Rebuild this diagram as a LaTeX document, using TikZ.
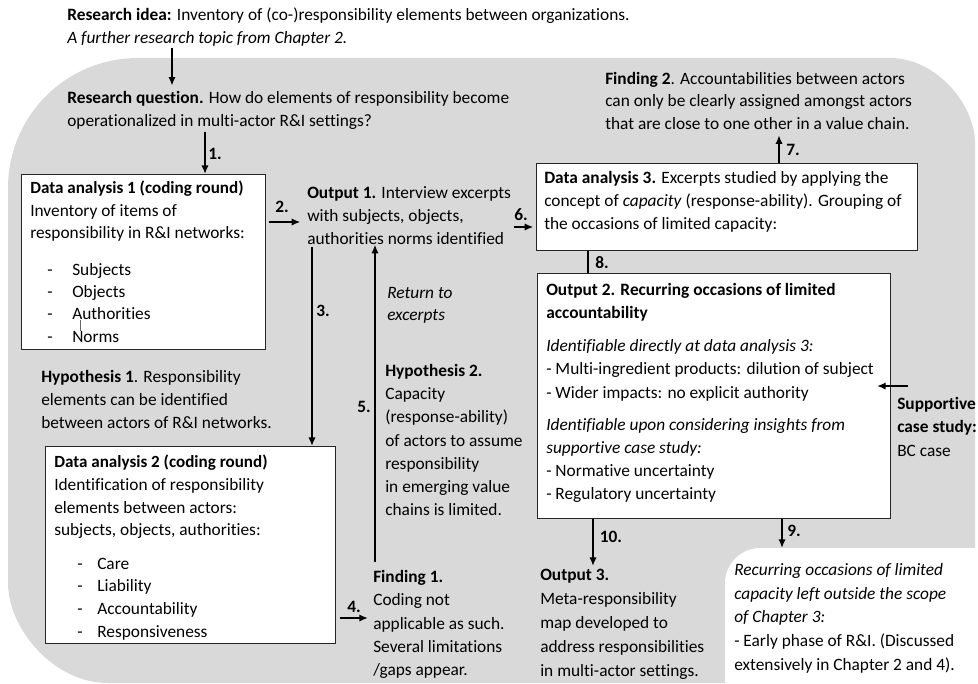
\documentclass[tikz,border=0pt]{standalone}
\usepackage{fontspec}
\setmainfont{Carlito}[Ligatures=NoCommon]
\usetikzlibrary{arrows.meta,calc}
\definecolor{panel}{RGB}{217,217,217}
\newcommand\dashitem[3]{\hspace*{#1}\makebox[#2][l]{-}#3}
\newcommand\boxtitle[1]{{\fontsize{12.8}{17}\selectfont\bfseries #1}}
\begin{document}
\begin{tikzpicture}[x=0.75pt,y=-0.75pt,
  tx/.style={anchor=north west,inner sep=0pt,align=left,yshift=-2.25pt,font=\fontsize{13}{17.25}\selectfont},
  box/.style={draw=black!85,line width=0.75pt,fill=white,anchor=north west,inner sep=0pt},
  arr/.style={line width=1.5pt,-{Latex[length=6.5pt,width=5.5pt]}},
  link/.style={line width=1.5pt},
  num/.style={inner sep=0pt,font=\fontsize{13}{15}\selectfont\bfseries}]
\useasboundingbox (0,0) rectangle (978,683);

% grey working area with the white corner cut out at the bottom right
\fill[panel] (8,188) .. controls (8,116) and (66,58) .. (138,58)
  -- (890,58) .. controls (937,58) and (975,105) .. (975,143)
  -- (975,683) -- (108,683) .. controls (53,683) and (8,628) .. (8,583) -- cycle;
\fill[white] (990,548) -- (760,548) .. controls (741,548) and (725,564) .. (725,583)
  -- (725,690) -- (990,690) -- cycle;

% starting point
\node[tx] (ri) at (67,5) {\textbf{Research idea:} Inventory of (co-)responsibility elements between organizations.\\
  \textit{A further research topic from Chapter 2.}};
\node[tx] (rq) at (67,88) {\textbf{Research question.} How do elements of responsibility become\\
  operationalized in multi-actor R\&I settings?};

% first coding round
\node[box,minimum width=183pt,minimum height=131.25pt] (da1) at (21,174) {};
\node[tx,font=\fontsize{13}{16.6}\selectfont] (da1t) at (30,178) {\boxtitle{Data analysis 1 (coding round)}\\
  Inventory of items of\\
  responsibility in R\&I networks:\\[11.5pt]
  \dashitem{12.75pt}{18.75pt}{Subjects}\\
  \dashitem{12.75pt}{18.75pt}{Objects}\\
  \dashitem{12.75pt}{18.75pt}{Authorities}\\
  \dashitem{12.75pt}{18.75pt}{Norms}};
\draw[black!60,line width=0.5pt] (80,320) -- (80,331);

\node[tx] (h1) at (41,367) {\textbf{Hypothesis 1}. Responsibility\\
  elements can be identified\\
  between actors of R\&I networks.};

% second coding round
\node[box,minimum width=217.5pt,minimum height=147.75pt] (da2) at (45,446) {};
\node[tx,font=\fontsize{13}{17}\selectfont] (da2t) at (54,452) {\boxtitle{Data analysis 2 (coding round)}\\
  Identification of responsibility\\
  elements between actors:\\
  subjects, objects, authorities:\\[8pt]
  \dashitem{17.25pt}{15pt}{Care}\\
  \dashitem{17.25pt}{15pt}{Liability}\\
  \dashitem{17.25pt}{15pt}{Accountability}\\
  \dashitem{17.25pt}{15pt}{Responsiveness}};

% middle column
\node[tx] (o1) at (307,183) {\textbf{Output 1.} Interview excerpts\\
  with subjects, objects,\\
  authorities norms identified};
\node[tx,font=\fontsize{13}{16.5}\selectfont\itshape] (ret) at (387,284) {Return to\\ excerpts};
\node[tx,font=\fontsize{13}{17.4}\selectfont] (h2) at (385,361) {\textbf{Hypothesis 2.}\\
  Capacity\\
  (response-ability)\\
  of actors to assume\\
  responsibility\\
  in emerging value\\
  chains is limited.};
\node[tx,font=\fontsize{13}{17.5}\selectfont] (f1) at (373,567) {\textbf{Finding 1.}\\
  Coding not\\
  applicable as such.\\
  Several limitations\\
  /gaps appear.};

% right column
\node[tx,font=\fontsize{13}{16.9}\selectfont] (f2) at (605,69) {\textbf{Finding 2}. Accountabilities between actors\\
  can only be clearly assigned amongst actors\\
  that are close to one other in a value chain.};
\node[box,minimum width=285.75pt,minimum height=65.25pt] (da3) at (536,163) {};
\node[tx] (da3t) at (544,168) {\textbf{Data analysis 3.} Excerpts studied by applying the\\
  concept of \textit{capacity} (response-ability). Grouping of\\
  the occasions of limited capacity:};
\node[box,minimum width=264.75pt,minimum height=183.75pt] (o2) at (537,273) {};
\node[tx,font=\fontsize{13}{17.4}\selectfont] (o2t) at (546,280) {\textbf{Output 2. Recurring occasions of limited}\\
  \textbf{accountability}\\[7.4pt]
  \textit{Identifiable directly at data analysis 3:}\\
  - Multi-ingredient products: dilution of subject\\
  - Wider impacts: no explicit authority\\[6.6pt]
  \textit{Identifiable upon considering insights from}\\
  \textit{supportive case study:}\\
  - Normative uncertainty\\
  - Regulatory uncertainty};
\node[tx,font=\fontsize{13}{17.6}\selectfont] (sup) at (897,394) {\textbf{Supportive}\\ \textbf{case study:}\\ BC case};
\node[tx,font=\fontsize{13}{17.9}\selectfont] (o3) at (540,566) {\textbf{Output 3.}\\
  Meta-responsibility\\
  map developed to\\
  address responsibilities\\
  in multi-actor settings.};
\node[tx,font=\fontsize{13}{17.8}\selectfont] (rest) at (734,560) {\textit{Recurring occasions of limited}\\
  \textit{capacity left outside the scope}\\
  \textit{of Chapter 3:}\\
  - Early phase of R\&I. (Discussed\\
  extensively in Chapter 2 and 4).};
\coordinate (resttop) at (782,548);

% connectors
\draw[arr,shorten <=1pt,shorten >=4pt] (ri.south -| 172,0) -- (rq.north -| 172,0);
\draw[arr,shorten <=1.5pt] (rq.south -| 205,0) -- (da1.north -| 205,0);
\draw[arr,shorten <=2pt,shorten >=5pt] (da1.east |- 0,222) -- (o1.west |- 0,222);
\draw[arr,shorten <=2pt,shorten >=2pt] (o1.east |- 0,227) -- (da3.west |- 0,227);
\draw[arr,shorten <=2pt] (o1.south -| 312,0) -- (da2.north -| 312,0);
\draw[arr,shorten <=6pt] (f1.north -| 375,0) -- (o1.south -| 375,0);
\draw[arr,shorten <=3pt,shorten >=3.75pt] (da2.east |- 0,618) -- (f1.west |- 0,618);
\draw[arr,shorten >=4pt] (da3.north -| 779,0) -- (f2.south -| 779,0);
\draw[link] (da3.south -| 588,0) -- (o2.north -| 588,0);
\draw[arr,shorten >=2.25pt] (o2.south -| 593,0) -- (o3.north -| 593,0);
\draw[arr] (o2.south -| 782,0) -- (resttop);
\draw[arr] ($(sup.north west)+(11,-11)$) -- ++(-31,0);

% step numbers
\node[num] at (215,154) {1.};
\node[num] at (282,207) {2.};
\node[num] at (323,311) {3.};
\node[num] at (354,607) {4.};
\node[num] at (364,407) {5.};
\node[num] at (521,215) {6.};
\node[num] at (793,150) {7.};
\node[num] at (602,263) {8.};
\node[num] at (794,531) {9.};
\node[num] at (611,537) {10.};
\end{tikzpicture}
\end{document}
